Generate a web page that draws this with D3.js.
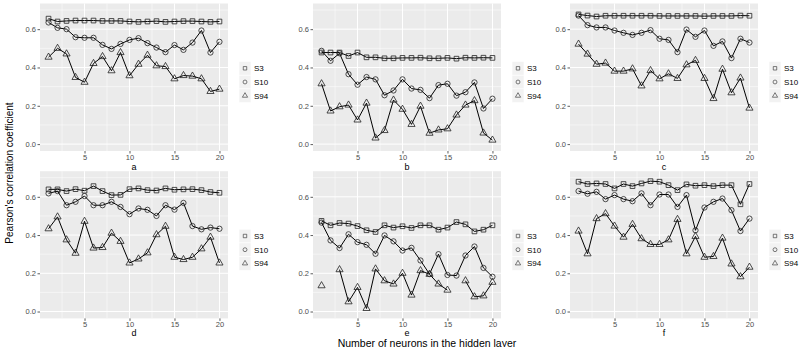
<!DOCTYPE html>
<html>
<head>
<meta charset="utf-8">
<script src="https://cdn.jsdelivr.net/npm/d3@7"></script>
<style>
  html, body { margin: 0; padding: 0; background: #ffffff; }
  svg { display: block; font-family: "Liberation Sans", Arial, sans-serif; }
</style>
</head>
<body>
<svg id="chart" width="800" height="347"></svg>
<script>
// ---------- DATA ----------
const neurons = [1,2,3,4,5,6,7,8,9,10,11,12,13,14,15,16,17,18,19,20];
const seriesNames = ["S3", "S10", "S94"];
const panelLabels = ["a", "b", "c", "d", "e", "f"];
const yTicks = [0.0, 0.2, 0.4, 0.6];
const xTicks = [5, 10, 15, 20];

const aS3  = [0.655,0.640,0.643,0.645,0.645,0.645,0.643,0.643,0.643,0.640,0.638,0.640,0.642,0.638,0.640,0.642,0.642,0.640,0.638,0.640];
const aS10 = [0.635,0.607,0.600,0.558,0.555,0.555,0.518,0.497,0.523,0.544,0.553,0.527,0.504,0.480,0.517,0.492,0.530,0.593,0.478,0.534];
const aS94 = [0.454,0.500,0.471,0.348,0.323,0.421,0.457,0.383,0.478,0.357,0.417,0.464,0.409,0.405,0.341,0.358,0.355,0.341,0.275,0.287];

const bS3  = [0.478,0.478,0.478,0.460,0.478,0.453,0.453,0.448,0.448,0.450,0.450,0.451,0.448,0.448,0.450,0.446,0.451,0.450,0.451,0.450];
const bS10 = [0.487,0.435,0.474,0.365,0.310,0.350,0.338,0.255,0.280,0.338,0.290,0.283,0.240,0.308,0.315,0.253,0.271,0.322,0.186,0.237];
const bS94 = [0.315,0.173,0.195,0.204,0.126,0.214,0.032,0.071,0.230,0.182,0.103,0.198,0.057,0.074,0.080,0.152,0.204,0.227,0.058,0.021];

const cS3  = [0.677,0.671,0.666,0.670,0.670,0.670,0.670,0.670,0.670,0.669,0.669,0.669,0.669,0.669,0.668,0.669,0.669,0.669,0.671,0.670];
const cS10 = [0.671,0.621,0.609,0.609,0.593,0.581,0.570,0.581,0.595,0.550,0.544,0.480,0.598,0.560,0.593,0.513,0.536,0.449,0.550,0.530];
const cS94 = [0.522,0.470,0.417,0.423,0.381,0.381,0.393,0.304,0.384,0.341,0.367,0.343,0.414,0.437,0.343,0.238,0.391,0.268,0.345,0.188];

const dS3  = [0.639,0.639,0.630,0.640,0.632,0.656,0.630,0.609,0.610,0.640,0.644,0.635,0.633,0.644,0.637,0.639,0.640,0.635,0.625,0.621];
const dS10 = [0.618,0.630,0.556,0.574,0.604,0.556,0.556,0.574,0.547,0.509,0.539,0.532,0.500,0.556,0.533,0.568,0.447,0.430,0.439,0.433];
const dS94 = [0.433,0.495,0.375,0.305,0.472,0.332,0.335,0.410,0.367,0.254,0.275,0.307,0.402,0.446,0.284,0.272,0.284,0.328,0.389,0.254];

const eS3  = [0.474,0.451,0.463,0.460,0.447,0.425,0.416,0.451,0.439,0.446,0.437,0.451,0.451,0.428,0.439,0.468,0.456,0.419,0.428,0.451];
const eS10 = [0.465,0.372,0.332,0.404,0.363,0.349,0.302,0.398,0.367,0.319,0.333,0.267,0.196,0.300,0.191,0.188,0.293,0.340,0.228,0.182];
const eS94 = [0.135,null,0.219,0.051,0.126,0.016,0.223,0.161,0.144,0.200,0.086,0.214,0.195,0.144,0.112,null,0.161,0.077,0.082,0.153];

const fS3  = [0.679,0.667,0.670,0.667,0.644,0.667,0.656,0.670,0.682,0.679,0.661,0.635,0.665,0.658,0.661,0.656,0.661,0.661,0.561,0.667];
const fS10 = [0.630,0.616,0.626,0.588,0.609,0.588,0.577,0.618,0.556,0.612,0.612,0.547,0.609,0.425,0.544,0.574,0.591,0.530,0.421,0.486];
const fS94 = [0.421,0.302,0.486,0.512,0.447,0.389,0.456,0.381,0.351,0.351,0.375,0.482,0.302,0.393,0.284,0.288,0.384,0.249,0.182,0.232];

// ---------- LAYOUT ----------
const panelData = [
  [aS3, aS10, aS94], [bS3, bS10, bS94], [cS3, cS10, cS94],
  [dS3, dS10, dS94], [eS3, eS10, eS94], [fS3, fS10, fS94]
];
const colX = [[40, 228], [313, 501], [570, 758]];
const rowY = [[151, 3.5], [318.4, 171.2]];
const labelY = [169.5, 335.8];
const yDomain = [-0.036, 0.734];
const xDomain = [0.05, 20.95];

const svg = d3.select("#chart");
const shapeTypes = [d3.symbolSquare, d3.symbolCircle, d3.symbolTriangle];
const shapeSizes = [22, 22, 22];

panelData.forEach((series, i) => {
  const col = i % 3, row = Math.floor(i / 3);
  const x = d3.scaleLinear().domain(xDomain).range(colX[col]);
  const y = d3.scaleLinear().domain(yDomain).range(rowY[row]);
  const [x0, x1] = colX[col];
  const [yb, yt] = rowY[row];
  const g = svg.append("g");

  // panel background
  g.append("rect").attr("x", x0).attr("y", yt).attr("width", x1 - x0).attr("height", yb - yt)
    .attr("fill", "#ebebeb");

  // minor grid
  [0.1, 0.3, 0.5, 0.7].forEach(v => {
    g.append("line").attr("x1", x0).attr("x2", x1).attr("y1", y(v)).attr("y2", y(v))
      .attr("stroke", "#ffffff").attr("stroke-width", 0.5);
  });
  [2.5, 7.5, 12.5, 17.5].forEach(v => {
    g.append("line").attr("y1", yt).attr("y2", yb).attr("x1", x(v)).attr("x2", x(v))
      .attr("stroke", "#ffffff").attr("stroke-width", 0.5);
  });
  // major grid
  yTicks.forEach(v => {
    g.append("line").attr("x1", x0).attr("x2", x1).attr("y1", y(v)).attr("y2", y(v))
      .attr("stroke", "#ffffff").attr("stroke-width", 1);
  });
  xTicks.forEach(v => {
    g.append("line").attr("y1", yt).attr("y2", yb).attr("x1", x(v)).attr("x2", x(v))
      .attr("stroke", "#ffffff").attr("stroke-width", 1);
  });

  // axes
  const yAxis = g.append("g").attr("transform", `translate(${x0},0)`)
    .call(d3.axisLeft(y).tickValues(yTicks).tickFormat(d3.format(".1f")).tickSize(2.5).tickPadding(1.5));
  const xAxis = g.append("g").attr("transform", `translate(0,${yb})`)
    .call(d3.axisBottom(x).tickValues(xTicks).tickSize(2.5).tickPadding(1));
  [yAxis, xAxis].forEach(ax => {
    ax.select(".domain").remove();
    ax.selectAll(".tick line").attr("stroke", "#333333").attr("stroke-width", 0.8);
    ax.selectAll(".tick text").attr("fill", "#4d4d4d").attr("font-size", "7.5px")
      .attr("font-family", "Liberation Sans, Arial, sans-serif");
  });

  // panel label
  g.append("text").attr("x", (x0 + x1) / 2).attr("y", labelY[row])
    .attr("text-anchor", "middle")
    .attr("font-size", "9px").attr("fill", "#000").text(panelLabels[i]);

  // lines and points
  const line = d3.line().defined(d => d[1] != null).x(d => x(d[0])).y(d => y(d[1]));
  series.forEach((vals, s) => {
    const pts = neurons.map((n, k) => [n, vals[k]]);
    g.append("path").datum(pts).attr("d", line).attr("fill", "none")
      .attr("stroke", "#000").attr("stroke-width", 1);
    g.selectAll(null).data(pts.filter(d => d[1] != null)).enter().append("path")
      .attr("transform", d => `translate(${x(d[0])},${y(d[1])})`)
      .attr("d", d3.symbol().type(shapeTypes[s]).size(shapeSizes[s]))
      .attr("fill", "none").attr("stroke", "#222").attr("stroke-width", 0.8);
  });

  // legend
  const lx = x1 + 11;
  const ly = yt + 58;
  seriesNames.forEach((name, s) => {
    const cy = ly + s * 13.7 + 6.8;
    g.append("rect").attr("x", lx).attr("y", ly + s * 13.7).attr("width", 12).attr("height", 13.7)
      .attr("fill", "#f2f2f2").attr("stroke", "#ffffff").attr("stroke-width", 0.6);
    g.append("path").attr("transform", `translate(${lx + 6},${cy})`)
      .attr("d", d3.symbol().type(shapeTypes[s]).size(12))
      .attr("fill", "none").attr("stroke", "#444").attr("stroke-width", 0.7);
    g.append("text").attr("x", lx + 15).attr("y", cy + 2.8).attr("font-size", "8px")
      .attr("fill", "#000").text(name);
  });
});

// titles
svg.append("text").attr("transform", "translate(13,173) rotate(-90)").attr("text-anchor", "middle")
  .attr("font-size", "10px").attr("fill", "#000").text("Pearson's correlation coefficient");
svg.append("text").attr("x", 427).attr("y", 346.5).attr("text-anchor", "middle")
  .attr("font-size", "10.5px").attr("fill", "#000").text("Number of neurons in the hidden layer");
</script>
</body>
</html>
